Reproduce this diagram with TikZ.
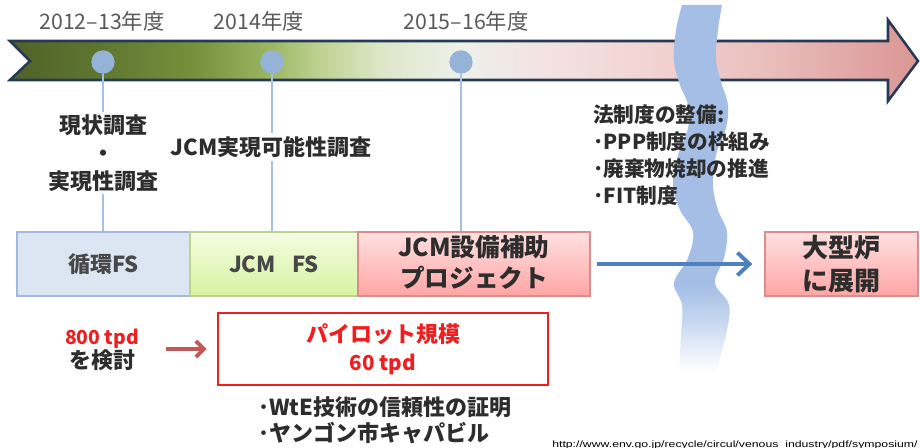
\documentclass[tikz,border=0pt]{standalone}
\usepackage{fontspec}
\setmainfont{Noto Sans CJK JP}
\newfontfamily\urlfont{Liberation Sans}
\usetikzlibrary{arrows.meta,fit}
\definecolor{yeargray}{RGB}{89,89,89}
\definecolor{txtdark}{RGB}{45,45,45}
\definecolor{txtmid}{RGB}{72,72,72}
\definecolor{ribbonborder}{RGB}{38,58,88}
\definecolor{dotblue}{RGB}{149,179,215}
\definecolor{stemblue}{RGB}{165,192,224}
\definecolor{wavec}{RGB}{164,190,230}
\definecolor{bafill}{RGB}{220,230,242}
\definecolor{baborder}{RGB}{160,185,220}
\definecolor{bbtop}{RGB}{244,251,226}
\definecolor{bbbot}{RGB}{214,244,160}
\definecolor{bbborder}{RGB}{185,212,140}
\definecolor{bctop}{RGB}{255,224,224}
\definecolor{bcbot}{RGB}{255,165,165}
\definecolor{bcborder}{RGB}{220,140,140}
\definecolor{arrowblue}{RGB}{79,129,189}
\definecolor{arrowred}{RGB}{192,90,88}
\definecolor{pilotred}{RGB}{240,30,30}
\definecolor{rba}{RGB}{79,98,40}
\definecolor{rbb}{RGB}{95,118,48}
\definecolor{rbc}{RGB}{119,147,60}
\definecolor{rbd}{RGB}{155,183,100}
\definecolor{rbe}{RGB}{190,210,145}
\definecolor{rbf}{RGB}{222,230,200}
\definecolor{rbg}{RGB}{238,240,234}
\definecolor{rbh}{RGB}{242,226,225}
\definecolor{rbi}{RGB}{242,212,211}
\definecolor{rbj}{RGB}{234,192,190}
\definecolor{rbk}{RGB}{218,150,148}
\pgfdeclarehorizontalshading{ribbonshade}{100bp}{color(0bp)=(rba); color(25bp)=(rba); color(29.96bp)=(rbb); color(35.46bp)=(rbc); color(39.3bp)=(rbd); color(42.1bp)=(rbe); color(45.4bp)=(rbf); color(49.8bp)=(rbg); color(54.7bp)=(rbh); color(60.2bp)=(rbi); color(66.3bp)=(rbj); color(75bp)=(rbk); color(100bp)=(rbk)}
\pgfdeclareverticalshading{waveshade}{100bp}{color(0bp)=(white); color(25bp)=(white); color(28bp)=(wavec!25); color(32bp)=(wavec!62); color(37bp)=(wavec); color(75bp)=(wavec); color(100bp)=(wavec)}
\tikzset{
  yearlbl/.style={font=\fontsize{16}{19}\selectfont, text=yeargray, inner sep=0pt},
  dot/.style={circle, fill=dotblue, minimum size=17.5pt, inner sep=0pt},
  stem/.style={draw=stemblue, line width=1.6pt},
  steplbl/.style={font=\fontsize{16.5}{21}\selectfont\bfseries, text=txtdark, align=center, inner sep=2pt},
  phasebox/.style={inner sep=0pt, line width=1pt},
  boxtxt/.style={font=\fontsize{16.5}{20}\selectfont\bfseries, text=txtmid},
  boldbox/.style={font=\fontsize{18.5}{23}\selectfont\bfseries, text=txtdark, align=center},
  bigbox/.style={font=\fontsize{19.5}{24.5}\selectfont\bfseries, text=txtdark, align=center},
  notelbl/.style={font=\fontsize{15.5}{20.2}\selectfont\bfseries, text=txtdark, align=left, inner sep=0pt},
}
\begin{document}
\begin{tikzpicture}[x=0.75pt, y=-0.75pt]
\useasboundingbox (0,0) rectangle (920,448);
\fill[white] (0,0) rectangle (920,448);
% ribbon arrow
\shadedraw[shading=ribbonshade, draw=ribbonborder, line width=1.9pt, line join=miter]
  (10,41) -- (888,41) -- (888,20) -- (918,61) -- (888,101) -- (888,80) -- (10,80) -- (30,61) -- cycle;
% dots
\node[dot] (c1) at (103,62) {};
\node[dot] (c2) at (272,62) {};
\node[dot] (c3) at (461,62) {};
% year labels
\node[yearlbl] (y1) at (102,21) {2012–13年度};
\node[yearlbl] (y2) at (259,21) {2014年度};
\node[yearlbl] (y3) at (466,21) {2015–16年度};
% wave
\shade[shading=waveshade]
  plot[smooth, tension=0.6] coordinates {(682,5) (676,30) (674,60) (680,85) (688,105) (688,128) (678,155) (673,185) (680,210) (693,232) (688,258) (674,283) (682,305) (681,335) (679,372)}
  -- plot[smooth, tension=0.6] coordinates {(716,372) (726,335) (729,305) (715,283) (724,258) (727,232) (718,210) (713,185) (716,155) (726,128) (728,105) (722,85) (716,60) (718,30) (722,5)}
  -- cycle;
% boxes
\node[phasebox, fit={(17,232)(190,296)}, fill=bafill, draw=baborder] (b1) {};
\node[phasebox, fit={(190,232)(358,296)}, top color=bbtop, bottom color=bbbot, draw=bbborder] (b2) {};
\node[phasebox, fit={(358,232)(590,296)}, top color=bctop, bottom color=bcbot, draw=bcborder] (b3) {};
\node[phasebox, fit={(765,232)(918,296)}, top color=bctop, bottom color=bcbot, draw=bcborder] (b4) {};
\node[boxtxt] (t1) at (b1.center) {循環FS};
\node[boxtxt] (t2) at (b2.center) {JCM\hspace{0.75em}FS};
\node[boldbox] (t3) at ([yshift=1pt]b3.center) {JCM設備補助\\プロジェクト};
\node[bigbox] (t4) at (b4.center) {大型炉\\に展開};
% step labels
\node[steplbl] (g1) at (103,153) {現状調査\\・\\実現性調査};
\node[steplbl] (g2) at (271,147) {JCM実現可能性調査};
\draw[stem] (c1) -- (g1.north -| c1);
\draw[stem] (g1.south -| c1) -- (b1.north -| c1);
\draw[stem] (c2) -- (g2.north -| c2);
\draw[stem] (g2.south -| c2) -- (b2.north -| c2);
\draw[stem] (c3) -- (b3.north -| c3);
% legal note
\node[notelbl, anchor=west] (law) at (593,155) {法制度の整備:\\･PPP制度の枠組み\\･廃棄物焼却の推進\\･FIT制度};
% blue arrow
\draw[arrowblue, line width=3pt, -{Straight Barb[length=9pt, width=17pt]}, shorten <=5pt, shorten >=9pt] (b3.east) -- (b4.west);
% lower part
\node[align=center, inner sep=2pt] (n800) at (102,350) {{\fontsize{14.5}{19.5}\selectfont\bfseries\color{pilotred}800 tpd}\\{\fontsize{16.5}{19.5}\selectfont\bfseries\color{txtdark}を検討}};
\node[fit={(218,313)(548,385)}, inner sep=0pt, draw=pilotred, line width=1.9pt] (pilot) {};
\node[align=center, text=pilotred, font=\fontsize{16.5}{21}\selectfont\bfseries] (pilottxt) at (pilot.center) {パイロット規模\\{\fontsize{15.5}{21}\selectfont 60 tpd}};
\draw[arrowred, line width=3pt, -{Straight Barb[length=6pt, width=12pt]}, shorten <=18pt, shorten >=7.5pt] (n800.east |- pilot.west) -- (pilot.west);
\node[notelbl, anchor=west, font=\fontsize{16.5}{19.5}\selectfont\bfseries] (bul) at (258,420) {･WtE技術の信頼性の証明\\･ヤンゴン市キャパビル};
% source url
\node[anchor=base west, inner sep=0pt, text=black] (url) at (552,447) {\resizebox{274pt}{5pt}{\urlfont http://www.env.go.jp/recycle/circul/venous\_industry/pdf/symposium/}};
\end{tikzpicture}
\end{document}
